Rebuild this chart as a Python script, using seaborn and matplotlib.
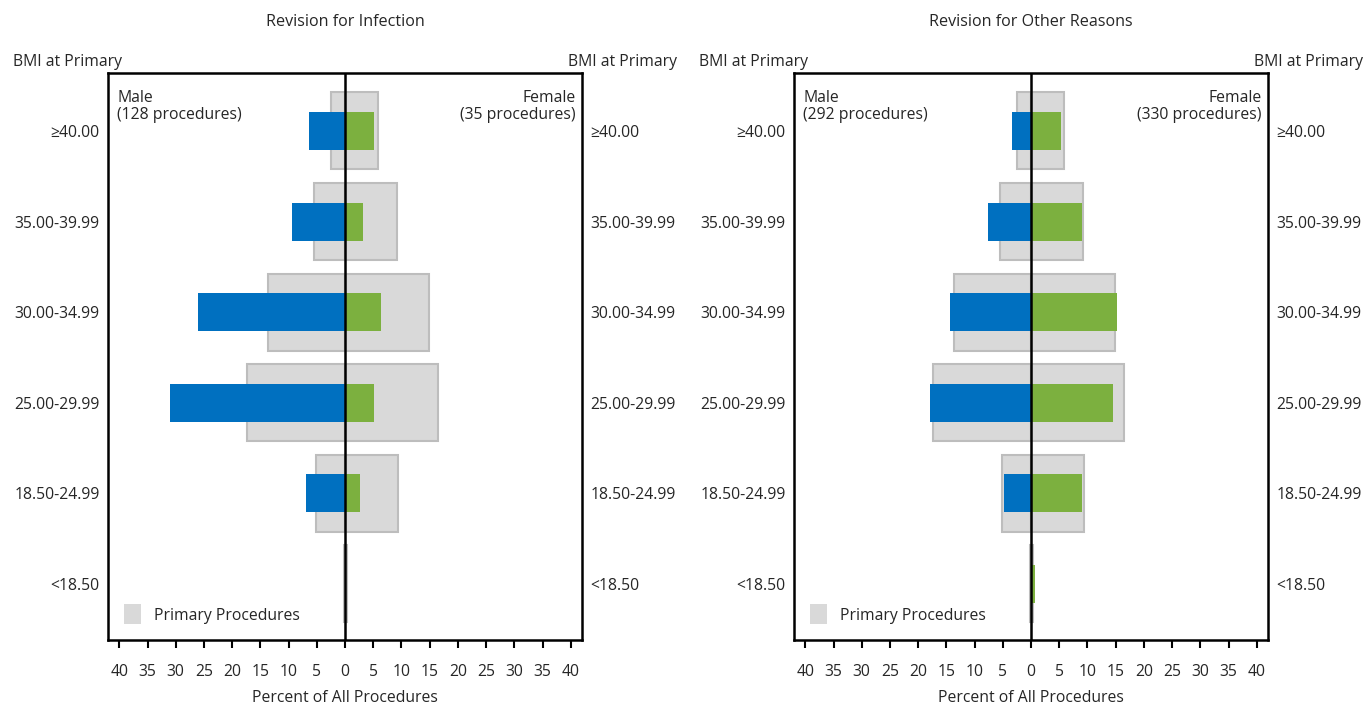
import matplotlib
matplotlib.use("Agg")
import matplotlib.pyplot as plt
import seaborn as sns
import pandas as pd
import numpy as np
from matplotlib.patches import Patch

# ---- data ----
categories = ["\u226540.00", "35.00-39.99", "30.00-34.99", "25.00-29.99", "18.50-24.99", "<18.50"]
primary_male = [2.4, 5.5, 13.6, 17.4, 5.2, 0.1]
primary_female = [5.9, 9.2, 14.8, 16.5, 9.4, 0.4]

infection_male = [6.4, 9.4, 26.0, 31.0, 7.0, 0.0]
infection_female = [5.1, 3.2, 6.3, 5.1, 2.6, 0.1]

other_male = [3.4, 7.6, 14.3, 17.9, 4.7, 0.0]
other_female = [5.3, 9.1, 15.3, 14.6, 9.1, 0.7]

panel_titles = ["Revision for Infection", "Revision for Other Reasons"]
male_labels = ["Male\n(128 procedures)", "Male\n(292 procedures)"]
female_labels = ["Female\n(35 procedures)", "Female\n(330 procedures)"]
xticks = [-40, -35, -30, -25, -20, -15, -10, -5, 0, 5, 10, 15, 20, 25, 30, 35, 40]

GRAY = "#d9d9d9"
GRAY_EDGE = "#bdbdbd"
BLUE = "#0070c0"
GREEN = "#7cb03f"

sns.set_theme(style="white")
plt.rcParams["font.family"] = ["Open Sans", "DejaVu Sans"]
FS = 11.3

fig = plt.figure(figsize=(13.64, 7.06), dpi=100)
W, H = 1364, 706
axes_px = [(108, 73, 474, 567), (794, 73, 474, 567)]

series = [(infection_male, infection_female), (other_male, other_female)]

for i, (px, (m, f)) in enumerate(zip(axes_px, series)):
    x0, y0, w, h = px
    ax = fig.add_axes([x0 / W, 1 - (y0 + h) / H, w / W, h / H])
    pm = pd.DataFrame({"cat": categories, "v": [-v for v in primary_male]})
    pf = pd.DataFrame({"cat": categories, "v": primary_female})
    dm = pd.DataFrame({"cat": categories, "v": [-v for v in m]})
    dfm = pd.DataFrame({"cat": categories, "v": f})
    for d in (pm, pf):
        sns.barplot(data=d, x="v", y="cat", orient="h", order=categories, color=GRAY,
                    saturation=1, width=0.85, edgecolor=GRAY_EDGE, linewidth=1.5,
                    ax=ax, errorbar=None, zorder=1)
    sns.barplot(data=dm, x="v", y="cat", orient="h", order=categories, color=BLUE,
                saturation=1, width=0.42, linewidth=0, ax=ax, errorbar=None, zorder=2)
    sns.barplot(data=dfm, x="v", y="cat", orient="h", order=categories, color=GREEN,
                saturation=1, width=0.42, linewidth=0, ax=ax, errorbar=None, zorder=2)
    ax.axvline(0, color="black", lw=1.8, zorder=5)
    ax.set_xlim(-42, 42)
    ax.set_ylim(5.62, -0.64)
    ax.set_xticks(xticks)
    ax.set_xticklabels([str(abs(t)) for t in xticks], fontsize=FS)
    ax.tick_params(axis="x", direction="out", length=6, width=1.5, color="black",
                   bottom=True, pad=11)
    ax.tick_params(axis="y", length=0, labelleft=True, labelright=True, labelsize=FS, pad=6)
    ax.set_ylabel("")
    ax.set_xlabel("Percent of All Procedures", fontsize=FS, labelpad=7.5)
    for s in ax.spines.values():
        s.set_color("black")
        s.set_linewidth(1.8)
    ax.set_title(panel_titles[i], fontsize=FS + 0.3, pad=34)
    ax.text(0.019, 0.970, male_labels[i], transform=ax.transAxes, ha="left", va="top",
            fontsize=FS, linespacing=1.08)
    ax.text(0.987, 0.970, female_labels[i], transform=ax.transAxes, ha="right", va="top",
            fontsize=FS, linespacing=1.08)
    ax.text(-0.2, 1.005, "BMI at Primary", transform=ax.transAxes, ha="left", va="bottom",
            fontsize=FS)
    ax.text(1.2, 1.005, "BMI at Primary", transform=ax.transAxes, ha="right", va="bottom",
            fontsize=FS)
    ax.legend(handles=[Patch(facecolor=GRAY, edgecolor="none", label="Primary Procedures")],
              loc="lower left", frameon=False, fontsize=FS, handlelength=1.1,
              handleheight=1.6, handletextpad=0.8, borderaxespad=0.3,
              bbox_to_anchor=(0.01, 0.008))

fig.savefig("out.png", dpi=100)
